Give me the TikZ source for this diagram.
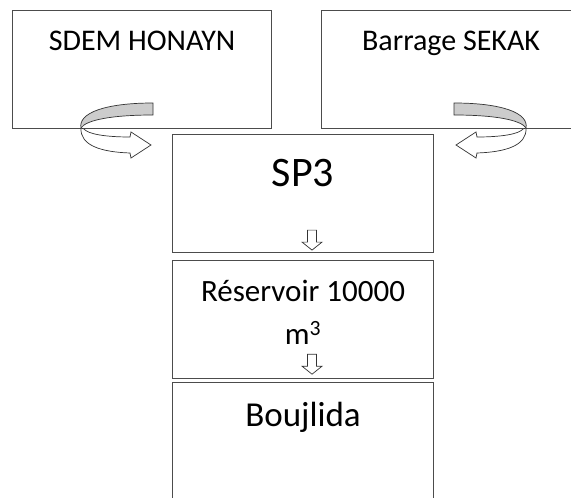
\documentclass[tikz,border=0pt]{standalone}
\usepackage{fontspec}
\setmainfont{Carlito}
\usetikzlibrary{positioning}

\tikzset{
  box/.style={draw=black!70, line width=1.1pt, minimum width=259pt,
    minimum height=118pt, inner sep=0pt},
  txt/.style={inner sep=0pt, anchor=base},
  band/.style={draw=black!80, line width=0.7pt},
  twist/.pic={
    \draw[band, fill=white] (81,128) .. controls (80,145) and (100,152) .. (130,153)
      -- (131,158) -- (151,145) -- (131,132) -- (130,137)
      .. controls (105,137) and (88,134) .. (84,129) -- cycle;
    \draw[band, fill=black!20] (153,103) .. controls (105,103) and (78,113) .. (81,128)
      .. controls (86,120) and (112,115) .. (153,115) -- cycle;
  },
  drop/.pic={
    \draw[band, fill=white] (-4.5,0) -- (-4.5,12) -- (-10,12) -- (0,20)
      -- (10,12) -- (4.5,12) -- (4.5,0) -- cycle;
  }
}

\begin{document}
\begin{tikzpicture}[x=1pt, y=-1pt]
  \useasboundingbox (0,0) rectangle (571,498);

  % sources
  \node[box, anchor=north west] (sdem) at (12,10) {};
  \node[box, anchor=north west] (sekak) at (321,10) {};
  \node[txt, font=\fontsize{30}{36}\selectfont] at ([yshift=-40pt]sdem.north) {SDEM HONAYN};
  \node[txt, font=\fontsize{30}{36}\selectfont] at ([yshift=-40pt]sekak.north) {Barrage SEKAK};

  % chain
  \node[box, minimum width=261pt, anchor=north west] (sp3) at (172,134) {};
  \node[box, minimum width=261pt, below=7pt of sp3] (res) {};
  \node[box, minimum width=261pt, below=3pt of res] (bou) {};
  \node[txt, font=\fontsize{42}{48}\selectfont] at ([yshift=-52pt]sp3.north) {SP3};
  \node[txt, font=\fontsize{31}{36}\selectfont] (resname) at ([yshift=-41pt]res.north) {Réservoir 10000};
  \node[txt, font=\fontsize{31}{36}\selectfont] (resunit) at ([yshift=-84pt]res.north) {m\textsuperscript{3}};
  \node[txt, font=\fontsize{35}{40}\selectfont] at ([yshift=-44pt]bou.north) {Boujlida};

  % arrows
  \pic at (0,0) {twist};
  \pic[xscale=-1] at (607,0) {twist};
  \pic at ([xshift=9pt, yshift=23pt]sp3.south) {drop};
  \pic at ([xshift=9pt, yshift=25pt]res.south) {drop};
\end{tikzpicture}
\end{document}
